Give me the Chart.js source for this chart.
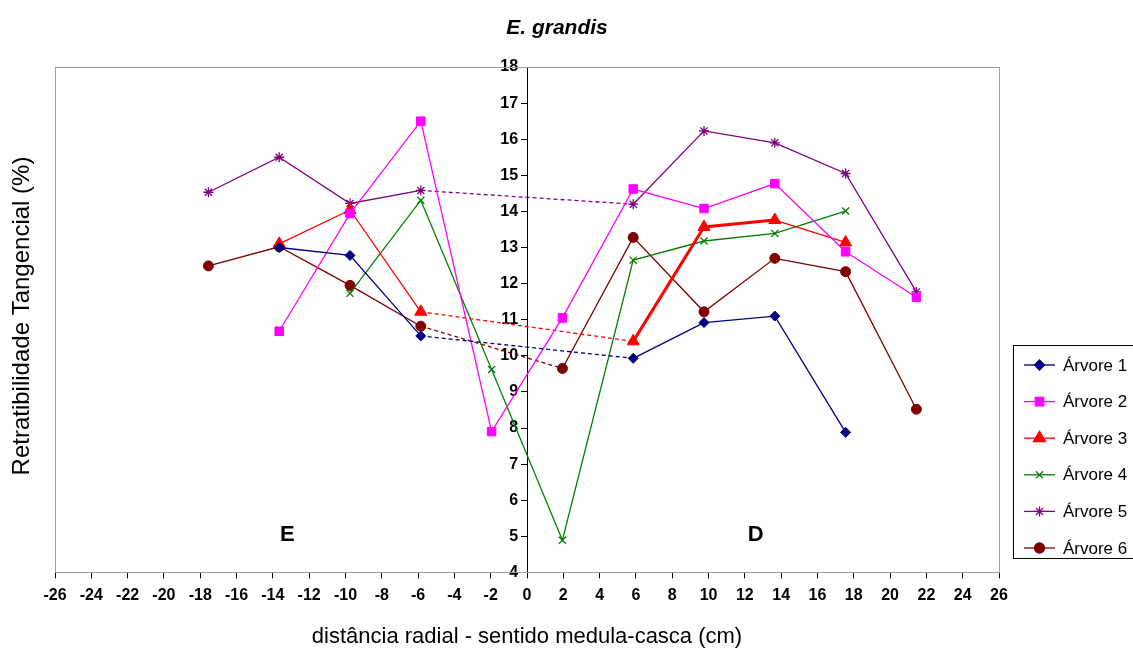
<!DOCTYPE html>
<html><head><meta charset="utf-8">
<script src="https://cdn.jsdelivr.net/npm/chart.js@4/dist/chart.umd.min.js"></script>
<style>html,body{margin:0;padding:0;background:#fff;}</style>
</head><body>
<canvas id="c" width="1133" height="652"></canvas>
<script>
// ---- data ----
const positions = [-17.55, -13.65, -9.75, -5.85, -1.95, 1.95, 5.85, 9.75, 13.65, 17.55, 21.45];
const arvore1 = [null, 13.00, 12.78, 10.55, null, null, 9.93, 10.92, 11.10, 7.88, null];
const arvore2 = [null, 10.68, 13.94, 16.50, 7.90, 11.05, 14.62, 14.08, 14.77, 12.88, 11.62];
const arvore3 = [null, 13.10, 14.04, 11.22, null, null, 10.40, 13.57, 13.76, 13.14, null];
const arvore4 = [null, null, 11.73, 14.31, 9.62, 4.89, 12.65, 13.18, 13.39, 14.01, null];
const arvore5 = [14.53, 15.50, 14.22, 14.58, null, null, 14.20, 16.23, 15.90, 15.05, 11.77];
const arvore6 = [12.49, 13.02, 11.95, 10.82, null, 9.65, 13.28, 11.22, 12.70, 12.33, 8.52];
const seriesNames = ['Árvore 1', 'Árvore 2', 'Árvore 3', 'Árvore 4', 'Árvore 5', 'Árvore 6'];
const xTickMin = -26, xTickMax = 26, xTickStep = 2;
const yTickMin = 4, yTickMax = 18, yTickStep = 1;
const chartTitle = 'E. grandis';
const yTitle = 'Retratibilidade Tangencial (%)';
const xTitle = 'distância radial - sentido medula-casca (cm)';
const sideLabels = [{text: 'E', x: -13.2, y: 5.05}, {text: 'D', x: 12.6, y: 5.05}];

// ---- styles ----
const FONT = '"Liberation Sans", Arial, Helvetica, sans-serif';
const colors = ['#000080', '#FF00FF', '#FF0000', '#008000', '#800080', '#800000'];
const markers = ['rectRot', 'rect', 'triangle', 'crossRot', 'star', 'circle'];
const radii = [5, 6, 7, 5, 5, 5];
const allSeries = [arvore1, arvore2, arvore3, arvore4, arvore5, arvore6];

function toPoints(vals) {
  return positions.map((x, i) => ({x: x, y: vals[i]})).filter(p => p.y !== null);
}

const datasets = allSeries.map((vals, i) => ({
  label: seriesNames[i],
  data: toPoints(vals),
  borderColor: colors[i],
  backgroundColor: colors[i],
  borderWidth: 1.3,
  pointStyle: markers[i],
  pointRadius: radii[i],
  pointHoverRadius: radii[i],
  pointBorderWidth: (markers[i] === 'crossRot' || markers[i] === 'star') ? 1.3 : 1,
  pointBorderColor: colors[i],
  pointBackgroundColor: colors[i],
  tension: 0,
  fill: false,
  segment: {
    borderDash: ctx => (ctx.p1.parsed.x - ctx.p0.parsed.x > 5 ? [4, 3] : undefined),
    borderWidth: ctx => (i === 2 && ctx.p0.parsed.x > 5 && ctx.p1.parsed.x < 14 && ctx.p1.parsed.x - ctx.p0.parsed.x < 5) ? 3 : undefined
  }
}));

const decor = {
  id: 'decor',
  beforeDatasetsDraw(chart) {
    const {ctx, chartArea: a} = chart;
    ctx.save();
    ctx.strokeStyle = '#a0a0a0';
    ctx.lineWidth = 1;
    ctx.strokeRect(Math.round(a.left) + 0.5, Math.round(a.top) + 0.5, Math.round(a.right - a.left), Math.round(a.bottom - a.top));
    ctx.restore();
  },
  afterDraw(chart) {
    const {ctx} = chart;
    const xs = chart.scales.x, ys = chart.scales.y;
    ctx.save();
    ctx.fillStyle = '#000';
    // title
    ctx.font = 'italic bold 21px ' + FONT;
    ctx.textAlign = 'center';
    ctx.textBaseline = 'middle';
    ctx.fillText(chartTitle, 557, 28);
    // y title
    ctx.save();
    ctx.translate(22, 316);
    ctx.rotate(-Math.PI / 2);
    ctx.font = '24px ' + FONT;
    ctx.fillText(yTitle, 0, 0);
    ctx.restore();
    // E / D
    ctx.font = 'bold 22px ' + FONT;
    sideLabels.forEach(l => ctx.fillText(l.text, xs.getPixelForValue(l.x), ys.getPixelForValue(l.y)));
    // legend
    const bx = 1013.5, by = 345.5, bw = 130, bh = 213;
    ctx.strokeStyle = '#000';
    ctx.lineWidth = 1;
    ctx.strokeRect(bx, by, bw, bh);
    ctx.font = '17px ' + FONT;
    ctx.textAlign = 'left';
    seriesNames.forEach((name, i) => {
      const y = 365 + i * 36.6;
      ctx.strokeStyle = colors[i];
      ctx.fillStyle = colors[i];
      ctx.lineWidth = 1.3;
      ctx.beginPath(); ctx.moveTo(1024, y); ctx.lineTo(1055, y); ctx.stroke();
      Chart.helpers.drawPoint(ctx, {pointStyle: markers[i], radius: radii[i], borderWidth: 1.2, rotation: 0}, 1039.5, y);
      ctx.fillStyle = '#000';
      ctx.fillText(name, 1063, y + 1);
    });
    ctx.restore();
  }
};

new Chart(document.getElementById('c'), {
  type: 'line',
  data: {datasets: datasets},
  plugins: [decor],
  options: {
    responsive: false,
    devicePixelRatio: 1,
    animation: false,
    layout: {padding: {left: 55, right: 134, top: 67, bottom: 0}},
    plugins: {legend: {display: false}, title: {display: false}, tooltip: {enabled: false}},
    scales: {
      x: {
        type: 'linear',
        min: xTickMin, max: xTickMax,
        ticks: {stepSize: xTickStep, color: '#000', font: {family: FONT, size: 16, weight: 'bold'}, padding: 8, maxRotation: 0, autoSkip: false},
        grid: {drawOnChartArea: false, drawTicks: true, tickLength: 6, color: '#000'},
        border: {display: true, color: '#000', width: 1},
        title: {display: true, text: xTitle, color: '#000', font: {family: FONT, size: 22}, padding: {top: 10, bottom: 2}}
      },
      y: {
        type: 'linear',
        position: {x: 0},
        min: yTickMin, max: yTickMax,
        ticks: {stepSize: yTickStep, color: '#000', font: {family: FONT, size: 16, weight: 'bold'}, callback: v => v + '  '},
        grid: {drawOnChartArea: false, drawTicks: true, tickLength: 6, color: '#000'},
        border: {display: true, color: '#000', width: 1}
      }
    }
  }
});
</script>
</body></html>
